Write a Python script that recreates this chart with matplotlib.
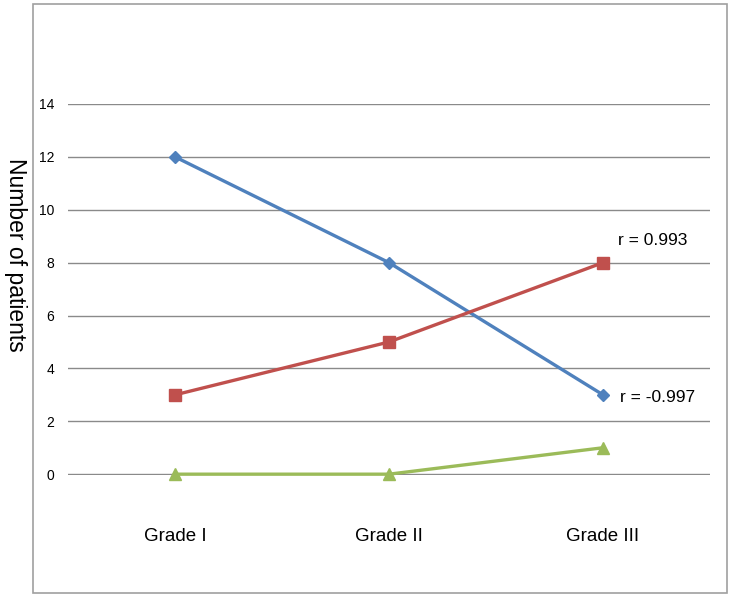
import matplotlib.pyplot as plt
from matplotlib.patches import Rectangle

# data
grades = ['Grade I', 'Grade II', 'Grade III']
blue_vals = [12, 8, 3]
red_vals = [3, 5, 8]
green_vals = [0, 0, 1]
y_ticks = [0, 2, 4, 6, 8, 10, 12, 14]

narrow = ['Liberation Sans Narrow', 'Liberation Sans', 'DejaVu Sans']

fig = plt.figure(figsize=(7.32, 5.97), dpi=100)
ax = fig.add_axes([0.0929, 0.2044, 0.8771, 0.6214])

x = list(range(len(grades)))
ax.plot(x, blue_vals, color='#4F81BD', lw=2.4, marker='D', ms=6.5, zorder=3, clip_on=False)
ax.plot(x, red_vals, color='#C0504D', lw=2.4, marker='s', ms=8, zorder=3, clip_on=False)
ax.plot(x, green_vals, color='#9BBB59', lw=2.4, marker='^', ms=8.5, zorder=3, clip_on=False)

ax.set_xlim(-0.5, 2.5)
ax.set_ylim(-0.03, 14)
ax.set_yticks(y_ticks)
ax.set_yticklabels([str(v) for v in y_ticks], family=narrow, fontsize=10)
ax.set_xticks(x)
ax.set_xticklabels(grades, family=narrow, fontsize=13.5)
ax.tick_params(axis='y', length=0, pad=10)
ax.tick_params(axis='x', length=0, pad=38)
ax.yaxis.grid(True, color='#8a8a8a', lw=1)
ax.set_axisbelow(True)
for s in ax.spines.values():
    s.set_visible(False)

# correlation labels
ax.text(2.07, 8.85, 'r = 0.993', family=narrow, fontsize=12.5, va='center', ha='left')
ax.text(2.08, 2.9, 'r = -0.997', family=narrow, fontsize=12.5, va='center', ha='left')

fig.text(0.021, 0.573, 'Number of patients', rotation=270, fontsize=16.5,
         family=['Liberation Sans', 'DejaVu Sans'],
         va='center', ha='center')

# outer frame
fig.patches.append(Rectangle((0.045, 0.0067), 0.948, 0.9866, transform=fig.transFigure,
                             fill=False, edgecolor='#a0a0a0', lw=1.2))

plt.savefig('out.png', dpi=100)
